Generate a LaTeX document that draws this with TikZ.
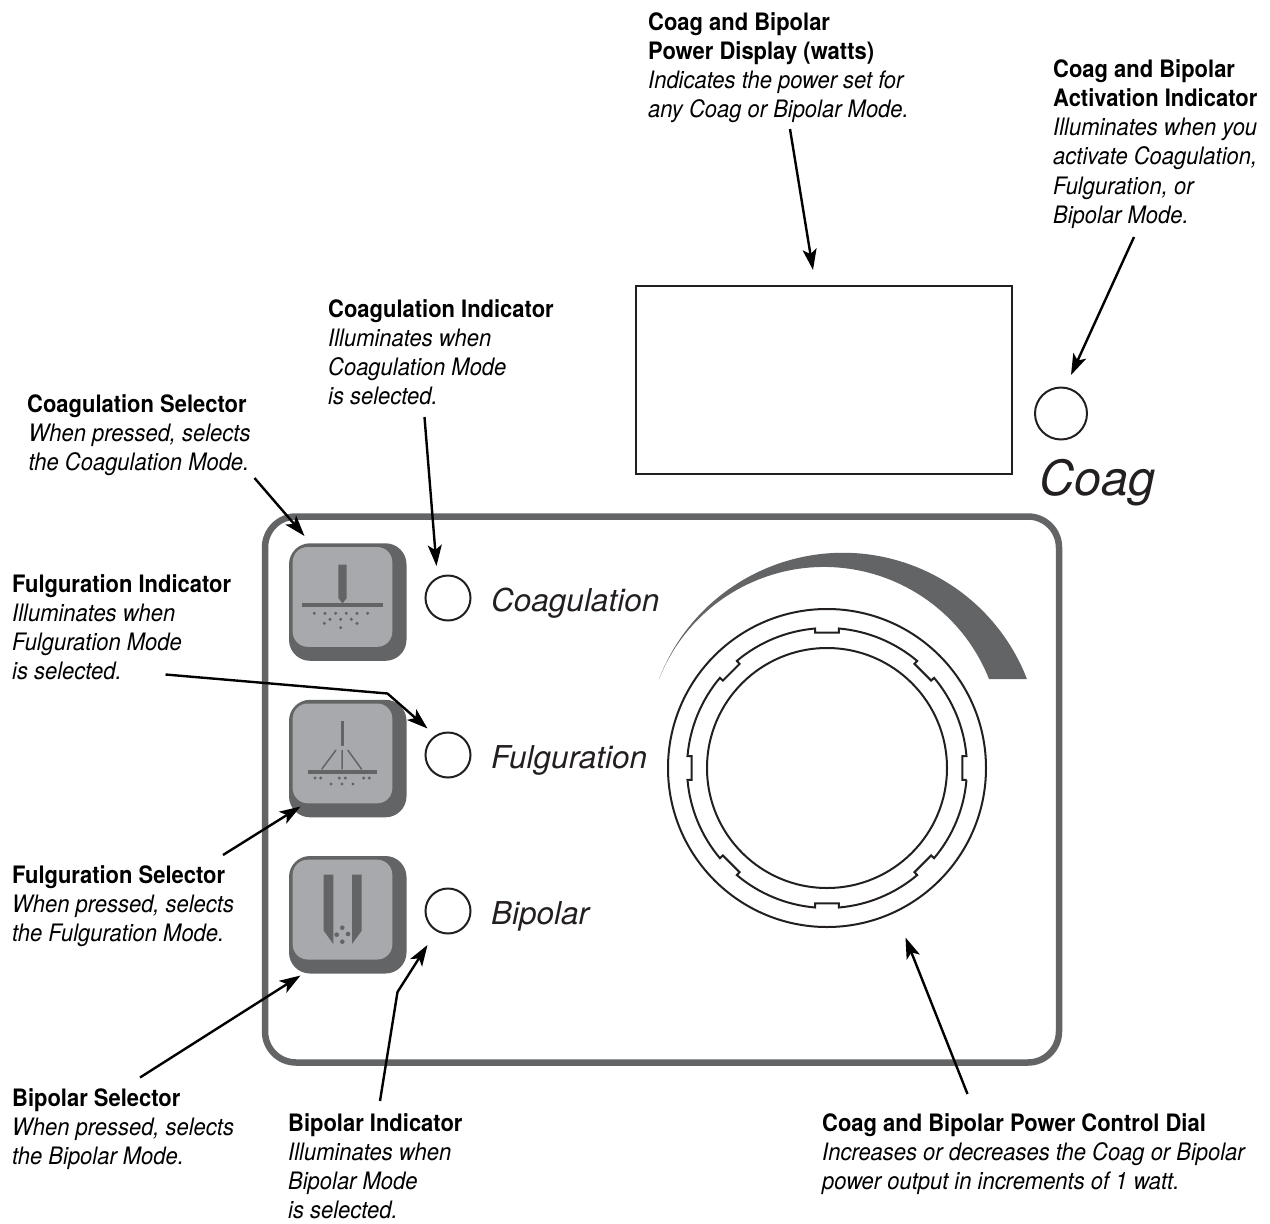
\documentclass[tikz,border=0pt]{standalone}
\usepackage{fontspec}
\setmainfont[FakeStretch=0.915]{TeX Gyre Heros}
\newfontfamily\modefont{TeX Gyre Heros}
\usepackage{xcolor}
\usepackage{tikz}
\usetikzlibrary{arrows.meta,positioning,calc}
\definecolor{inkDark}{HTML}{231F20}
\definecolor{keyDark}{HTML}{636466}
\definecolor{keyLight}{HTML}{A7A9AC}
\tikzset{
  callout/.style={anchor=north west,inner sep=0pt,align=left,text=black,font=\fontsize{24}{29.3}\selectfont},
  pointer/.style={draw=black,line width=2.4pt,-{Stealth[length=21pt,width=14pt,inset=5pt]}},
  lamp/.style={circle,draw=inkDark,line width=2pt,minimum size=45pt,inner sep=0pt},
  modeName/.style={anchor=base west,inner sep=0pt,text=inkDark,font=\fontsize{31.5}{36}\modefont\itshape},
  dialLine/.style={draw=inkDark,line width=2pt},
  keyTop/.style={fill=keyLight,rounded corners=15pt},
  keyBase/.style={fill=keyDark,rounded corners=21pt},
  glyph/.style={fill=keyDark},
}
\newcommand{\keyCap}[1]{%
  \fill[keyBase] (289,#1) rectangle (406.5,#1+117.5);
  \fill[keyTop] (292.7,#1+3.7) rectangle (392.3,#1+103.5);
}
\begin{document}
\begin{tikzpicture}[x=1pt,y=-1pt,>=Stealth]
\useasboundingbox (0,0) rectangle (1270,1224);
% front panel
\draw[keyDark,line width=6.5pt,rounded corners=31pt] (265,516.5) rectangle (1059,1062.5);
\node[draw=inkDark,line width=2pt,minimum width=376pt,minimum height=188pt,inner sep=0pt] (displayBox) at (823.5,379.5) {};
\node[lamp,minimum size=52pt] (lampCoag) at (1061,413.5) {};
\node[modeName,font=\fontsize{48.5}{54}\modefont\itshape] (nameCoag) at (1039,495) {Coag};
% keys
\keyCap{543.3}
\keyCap{699.8}
\keyCap{856}
\fill[glyph] (338.3,564.7) -- (346.7,564.7) -- (346.7,598) -- (342.5,603.5) -- (338.3,598) -- cycle;
\fill[glyph] (302,603.3) rectangle (382.7,607);
\foreach \dotx/\doty in {314.3/613.3,325/613.3,335.7/613.3,346.3/613.3,357/613.3,367.7/613.3,330/619.3,340.7/619.3,351.3/619.3,324.3/623.3,357/623.3,340.7/627.7}
  \fill[glyph] (\dotx,\doty) circle(1.7);
\fill[glyph] (340.7,720.7) rectangle (343.7,745.7);
\fill[glyph] (307.7,770.3) rectangle (377.3,774);
\draw[keyDark,line width=1.5pt] (342,750)--(342,769.3) (336,750)--(321.7,769.3) (347.7,750)--(361.7,769.3);
\foreach \dotx/\doty in {315/778,320.7/778,339.3/778,345.3/778,363.7/778,369.3/778,331/784,342/784,353/784}
  \fill[glyph] (\dotx,\doty) circle(1.7);
\fill[glyph] (323.7,874.7) -- (333.3,874.7) -- (333.3,944) -- (323.7,930.7) -- cycle;
\fill[glyph] (352,874.7) -- (361.7,874.7) -- (361.7,930.7) -- (352,944) -- cycle;
\foreach \dotx/\doty in {342.3/927.7,336.7/934.7,348/934,342.3/941.7}
  \fill[glyph] (\dotx,\doty) circle(2.3);
% lamps and their names
\node[lamp] (lampCoagulation) at (448,598) {};
\node[lamp] (lampFulguration) at (448,755) {};
\node[lamp] (lampBipolar) at (448,911) {};
\node[modeName] (nameCoagulation) at (491,611.5) {Coagulation};
\node[modeName] (nameFulguration) at (491,768.5) {Fulguration};
\node[modeName] (nameBipolar) at (491,924.5) {Bipolar};
% dial
\fill[keyDark] (659,679) arc[start angle=-158.9,end angle=-21.1,radius=197.2] -- (989,679) arc[start angle=-21.65,end angle=-158.35,radius=177.5] -- cycle;
\node[circle,dialLine,minimum size=318pt,inner sep=0pt] (dialOuter) at (827,768) {};
\node[circle,dialLine,minimum size=240pt,inner sep=0pt] (dialInner) at (827,768) {};
\begin{scope}[shift={(827,768)}]
\draw[dialLine] (4.9:140) \foreach \a in {0,45,...,315} {
  arc[start angle=\a+4.9,end angle=\a+40.1,radius=140] -- ({\a+40}:136) -- ({\a+50}:136) -- ({\a+49.9}:140)
};
\end{scope}
% callouts
\node[callout] (tagDisplay) at (648,12) {\textbf{Coag and Bipolar}\\\textbf{Power Display (watts)}\\\textit{Indicates the power set for}\\\textit{any Coag or Bipolar Mode.}};
\node[callout] (tagActivation) at (1053,59) {\textbf{Coag and Bipolar}\\\textbf{Activation Indicator}\\\textit{Illuminates when you}\\\textit{activate Coagulation,}\\\textit{Fulguration, or}\\\textit{Bipolar Mode.}};
\node[callout] (tagCoagLamp) at (328,299) {\textbf{Coagulation Indicator}\\\textit{Illuminates when}\\\textit{Coagulation Mode}\\\textit{is selected.}};
\node[callout] (tagCoagKey) at (27,394) {\textbf{Coagulation Selector}\\\hspace*{1.5pt}\textit{When pressed, selects}\\\hspace*{1.5pt}\textit{the Coagulation Mode.}};
\node[callout] (tagFulgLamp) at (12,574) {\textbf{Fulguration Indicator}\\\textit{Illuminates when}\\\textit{Fulguration Mode}\\\textit{is selected.}};
\node[callout] (tagFulgKey) at (12,865) {\textbf{Fulguration Selector}\\\textit{When pressed, selects}\\\textit{the Fulguration Mode.}};
\node[callout] (tagBipolarKey) at (12,1088) {\textbf{Bipolar Selector}\\\textit{When pressed, selects}\\\textit{the Bipolar Mode.}};
\node[callout] (tagBipolarLamp) at (288,1113) {\textbf{Bipolar Indicator}\\\textit{Illuminates when}\\\textit{Bipolar Mode}\\\textit{is selected.}};
\node[callout] (tagDial) at (822,1113) {\textbf{Coag and Bipolar Power Control Dial}\\\textit{Increases or decreases the Coag or Bipolar}\\\textit{power output in increments of 1 watt.}};
% pointers
\coordinate (tailDisplay) at (790,129);
\coordinate (headDisplay) at (813,270);
\coordinate (tailActivation) at (1134,237);
\coordinate (headActivation) at (1071,375);
\coordinate (tailCoagLamp) at (424.5,417);
\coordinate (headCoagLamp) at (436.5,566);
\coordinate (tailCoagKey) at (254.5,478);
\coordinate (headCoagKey) at (304.5,536);
\coordinate (tailFulgLamp) at (165.5,674.5);
\coordinate (bendFulgLamp) at (387.5,693.5);
\coordinate (headFulgLamp) at (427.5,728.5);
\coordinate (tailFulgKey) at (223,855);
\coordinate (headFulgKey) at (300.5,806.5);
\coordinate (tailBipolarKey) at (140,1077.5);
\coordinate (headBipolarKey) at (300.5,975.5);
\coordinate (tailBipolarLamp) at (380,1101);
\coordinate (bendBipolarLamp) at (397.5,992);
\coordinate (headBipolarLamp) at (427.5,945);
\coordinate (tailDial) at (967.5,1094);
\coordinate (headDial) at (905.5,937.5);
\draw[pointer] (tailDisplay)--(headDisplay);
\draw[pointer] (tailActivation)--(headActivation);
\draw[pointer] (tailCoagLamp)--(headCoagLamp);
\draw[pointer] (tailCoagKey)--(headCoagKey);
\draw[pointer] (tailFulgLamp)--(bendFulgLamp)--(headFulgLamp);
\draw[pointer] (tailFulgKey)--(headFulgKey);
\draw[pointer] (tailBipolarKey)--(headBipolarKey);
\draw[pointer] (tailBipolarLamp)--(bendBipolarLamp)--(headBipolarLamp);
\draw[pointer] (tailDial)--(headDial);
\end{tikzpicture}
\end{document}
